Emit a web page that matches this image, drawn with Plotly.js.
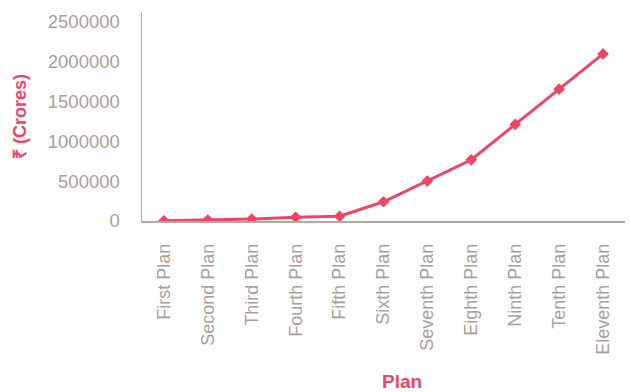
<!DOCTYPE html>
<html>
<head>
<meta charset="utf-8">
<script src="https://cdn.plot.ly/plotly-3.0.1.min.js"></script>
<style>html,body{margin:0;padding:0;background:#fff;}#chart{width:631px;height:392px;}</style>
</head>
<body>
<div id="chart"></div>
<script>
var plans = ["First Plan","Second Plan","Third Plan","Fourth Plan","Fifth Plan","Sixth Plan","Seventh Plan","Eighth Plan","Ninth Plan","Tenth Plan","Eleventh Plan"];
var outlay = [1960, 12000, 24000, 46000, 59000, 241000, 500000, 766000, 1208000, 1650000, 2091000];
var yTicks = [0, 500000, 1000000, 1500000, 2000000, 2500000];
var yTickText = ["0","500000","1000000","1500000","2000000","2500000"];

var pink = "#ef4466";
var labelColor = "#a99f97";
var axisColor = "#b3a79e";
var font = "Liberation Sans, Arial, Helvetica, sans-serif";

var trace = {
  x: plans,
  y: outlay,
  type: "scatter",
  mode: "lines+markers",
  line: {color: pink, width: 3},
  marker: {symbol: "diamond", size: 9, color: pink},
  hoverinfo: "x+y"
};

var layout = {
  width: 631,
  height: 392,
  margin: {l: 142, r: 6, t: 12, b: 171, pad: 0},
  paper_bgcolor: "#ffffff",
  plot_bgcolor: "#ffffff",
  showlegend: false,
  font: {family: font, color: labelColor},
  xaxis: {
    type: "category",
    range: [-0.5, 10.5],
    showgrid: false,
    zeroline: false,
    showline: true,
    linecolor: axisColor,
    linewidth: 1.5,
    ticks: "outside",
    ticklen: 14,
    tickcolor: "rgba(0,0,0,0)",
    tickangle: -90,
    tickfont: {family: font, size: 18, color: labelColor},
    fixedrange: true
  },
  yaxis: {
    range: [0, 2615000],
    tickvals: yTicks,
    ticktext: yTickText,
    showgrid: false,
    zeroline: false,
    showline: true,
    linecolor: axisColor,
    linewidth: 1.5,
    ticks: "outside",
    ticklen: 17,
    tickcolor: "rgba(0,0,0,0)",
    tickfont: {family: font, size: 18.5, color: labelColor},
    title: {text: "₹ (Crores)", font: {family: font, size: 18, color: pink, weight: "bold"}, standoff: 16},
    fixedrange: true
  },
  annotations: [{
    text: "<b>Plan</b>",
    xref: "paper", yref: "paper",
    x: 0.5385, y: 0,
    xanchor: "center", yanchor: "middle",
    yshift: -160,
    showarrow: false,
    font: {family: font, size: 19, color: pink}
  }]
};

Plotly.newPlot("chart", [trace], layout, {displayModeBar: false, staticPlot: true});
</script>
</body>
</html>
